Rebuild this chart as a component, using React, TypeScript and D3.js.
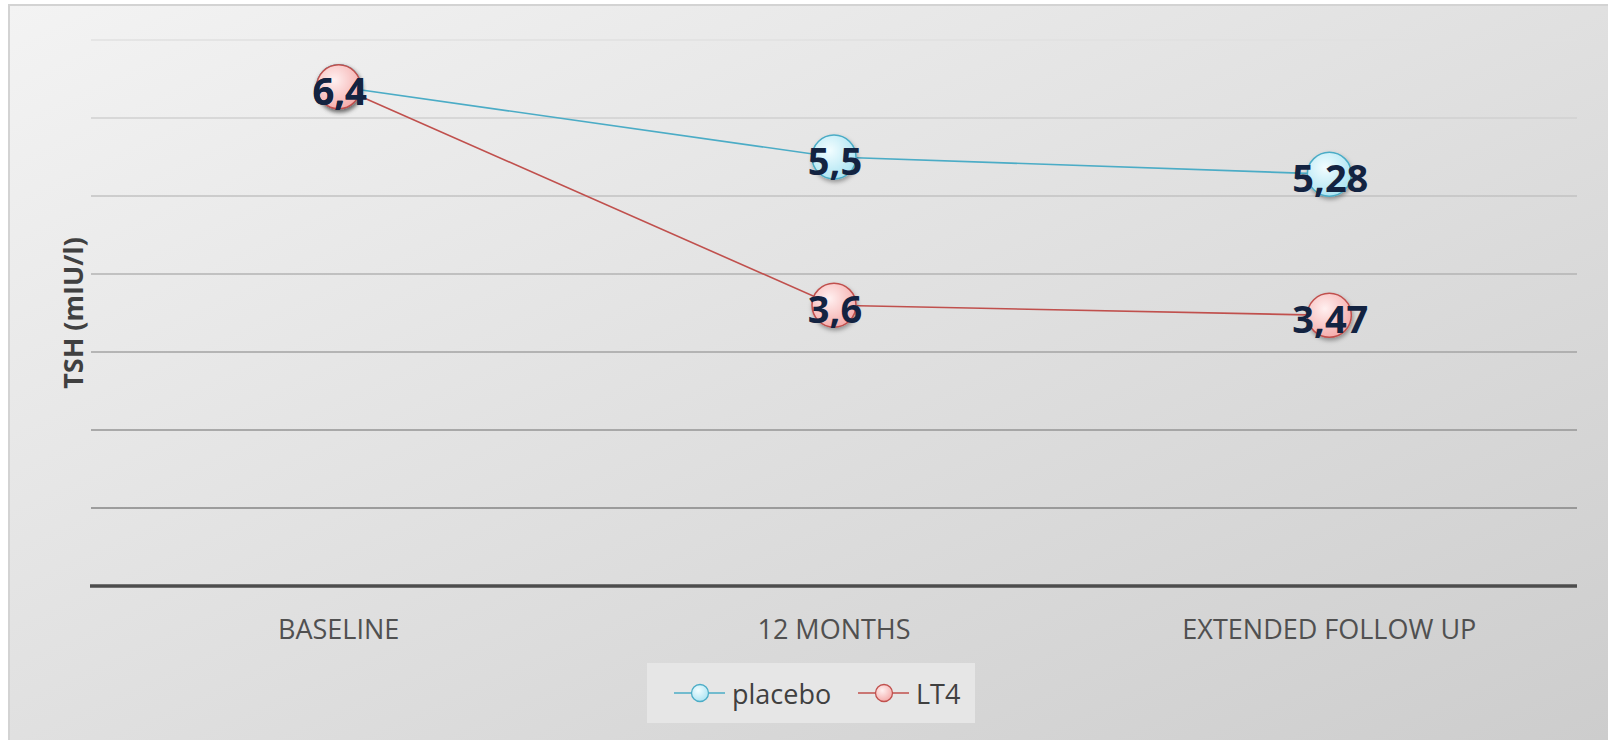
import React from "react";
import * as d3 from "d3";

const categories = ["BASELINE", "12 MONTHS", "EXTENDED FOLLOW UP"];
const placeboValues = [6.4, 5.5, 5.28];
const lt4Values = [6.4, 3.6, 3.47];
const placeboLabels = ["6,4", "5,5", "5,28"];
const lt4Labels = ["6,4", "3,6", "3,47"];
const yTicks = [0, 1, 2, 3, 4, 5, 6, 7];
const yTitle = "TSH (mIU/l)";
const seriesNames = ["placebo", "LT4"];

const W = 1608;
const H = 740;
const plotLeft = 91;
const plotRight = 1577;
const plotTop = 40;
const plotBottom = 586;

export default function App() {
  const x = d3.scaleBand<string>().domain(categories).range([plotLeft, plotRight]);
  const y = d3.scaleLinear().domain([0, 7]).range([plotBottom, plotTop]);
  const cx = (c: string) => (x(c) as number) + x.bandwidth() / 2;
  const line = d3
    .line<number>()
    .x((_, i) => cx(categories[i]))
    .y((d) => y(d));
  const gridColor = d3.scaleLinear<string>().domain([7, 1]).range(["#e0e0e0", "#858585"]);

  const series = [
    { name: seriesNames[0], values: placeboValues, labels: placeboLabels, stroke: "#4bacc6", grad: "gPlacebo" },
    { name: seriesNames[1], values: lt4Values, labels: lt4Labels, stroke: "#c0504d", grad: "gLT4" },
  ];
  const font = "'Open Sans', 'DejaVu Sans', sans-serif";

  return (
    <div style={{ position: "fixed", left: 0, top: 0, width: W, height: H, background: "#fff" }}>
      <svg width={W} height={H} style={{ display: "block" }}>
        <defs>
          <linearGradient id="bg" x1="0" y1="0" x2="1" y2="1">
            <stop offset="0" stopColor="#f3f3f3" />
            <stop offset="1" stopColor="#cdcdcd" />
          </linearGradient>
          <radialGradient id="gPlacebo" cx="0.4" cy="0.35" r="0.7">
            <stop offset="0" stopColor="#f2fdff" />
            <stop offset="1" stopColor="#a9e3f2" />
          </radialGradient>
          <radialGradient id="gLT4" cx="0.4" cy="0.35" r="0.7">
            <stop offset="0" stopColor="#fff0f0" />
            <stop offset="1" stopColor="#f4a9a8" />
          </radialGradient>
          <filter id="sh" x="-50%" y="-50%" width="200%" height="200%">
            <feDropShadow dx="1" dy="2.5" stdDeviation="2" floodColor="#000" floodOpacity="0.35" />
          </filter>
        </defs>
        <rect x={9} y={5} width={W - 9} height={H - 5} fill="url(#bg)" />
        <path d={`M9,${H} V5 H${W}`} fill="none" stroke="#d3d3d3" strokeWidth={2} />

        {yTicks.slice(1).map((t) => (
          <line
            key={t}
            x1={plotLeft}
            x2={plotRight}
            y1={y(t)}
            y2={y(t)}
            stroke={gridColor(t)}
            strokeWidth={1.5}
          />
        ))}
        <line x1={plotLeft - 1} x2={plotRight} y1={y(0)} y2={y(0)} stroke="#4d4d4d" strokeWidth={3.5} />

        {categories.map((c) => (
          <text
            key={c}
            x={cx(c)}
            y={628}
            textAnchor="middle"
            dominantBaseline="central"
            fontFamily={font}
            fontSize={27}
            fill="#505050"
          >
            {c}
          </text>
        ))}

        <text
          transform={`translate(72,${(plotTop + plotBottom) / 2}) rotate(-90)`}
          textAnchor="middle"
          dominantBaseline="central"
          fontFamily={font}
          fontSize={27}
          fontWeight="bold"
          fill="#404040"
        >
          {yTitle}
        </text>

        {series.map((s) => (
          <path key={s.name} d={line(s.values) || ""} fill="none" stroke={s.stroke} strokeWidth={1.6} />
        ))}
        {series.map((s) =>
          s.values.map((v, i) => (
            <circle
              key={s.name + i}
              cx={cx(categories[i])}
              cy={y(v)}
              r={22}
              fill={`url(#${s.grad})`}
              stroke={s.stroke}
              strokeWidth={1.5}
              filter="url(#sh)"
            />
          ))
        )}
        {series.map((s) =>
          s.values.map((v, i) => (
            <text
              key={"l" + s.name + i}
              x={cx(categories[i]) + 1}
              y={y(v) + 3}
              textAnchor="middle"
              dominantBaseline="central"
              fontFamily={font}
              fontSize={38}
              fontWeight="bold"
              fill="#132341"
            >
              {s.labels[i]}
            </text>
          ))
        )}

        <rect x={647} y={663} width={328} height={60} fill="#e6e6e6" />
        {series.map((s, k) => {
          const lx = k === 0 ? 674 : 858;
          return (
            <g key={"lg" + s.name}>
              <line x1={lx} x2={lx + 51} y1={693} y2={693} stroke={s.stroke} strokeWidth={1.6} />
              <circle cx={lx + 26} cy={693} r={8.5} fill={`url(#${s.grad})`} stroke={s.stroke} strokeWidth={1.3} />
              <text
                x={lx + 58}
                y={693}
                dominantBaseline="central"
                fontFamily={font}
                fontSize={27}
                fill="#404040"
              >
                {s.name}
              </text>
            </g>
          );
        })}
      </svg>
    </div>
  );
}
